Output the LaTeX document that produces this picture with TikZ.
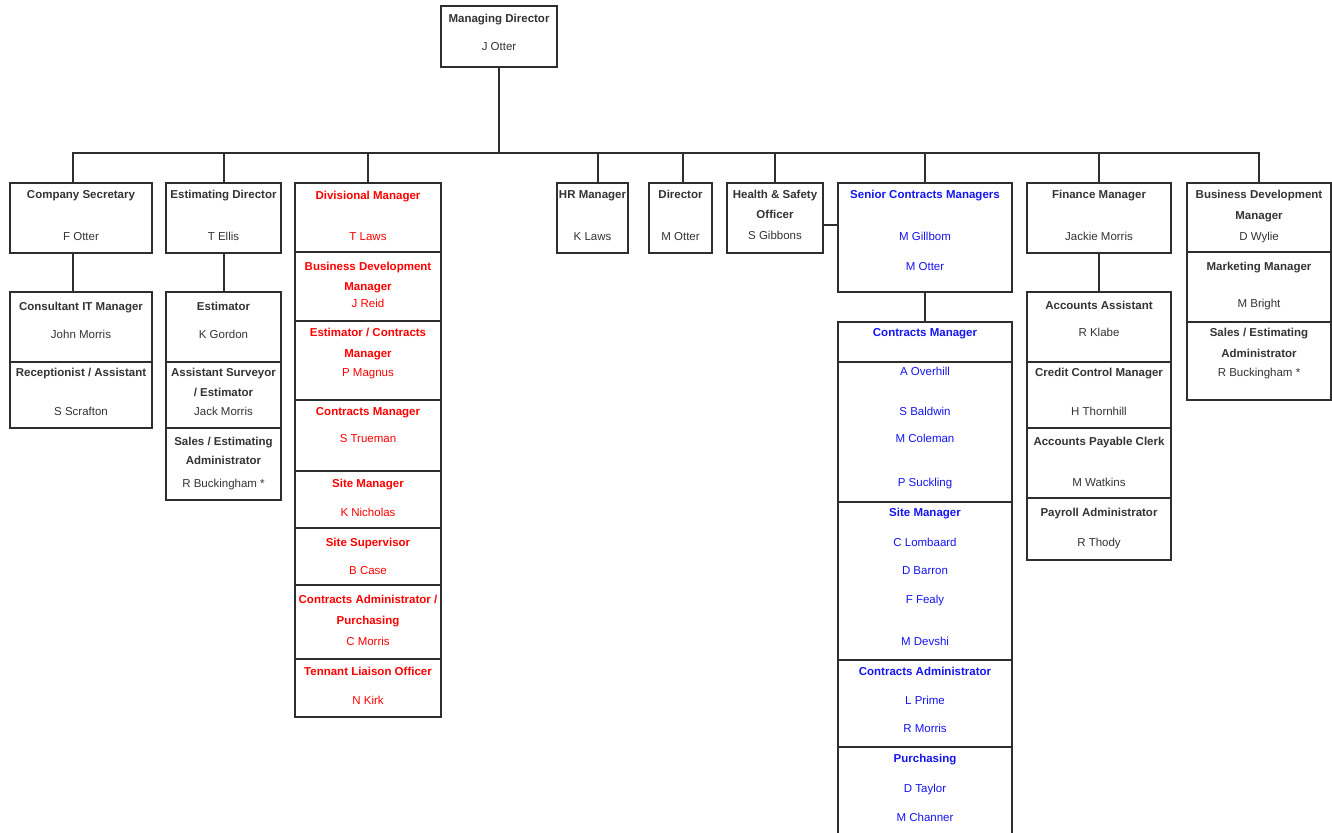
\documentclass[tikz,border=0pt]{standalone}
\usepackage{fontspec}
\setmainfont{Liberation Sans}
\definecolor{ln}{HTML}{2E2E2E}
\definecolor{rd}{HTML}{FF0000}
\definecolor{bl}{HTML}{1414F0}
\newcommand\cellbox[5]{\node[cell, minimum width=#4pt, minimum height=#5pt] (#1) at (#2,#3) {};}
\newcommand\lbl[5]{\node[#1] (#2) at (#3,#4) {#5};}
\begin{document}
\begin{tikzpicture}[x=1pt,y=-1pt,
  cell/.style={draw=ln, line width=1.5pt, anchor=north west, inner sep=0pt, outer sep=0pt},
  conn/.style={draw=ln, line width=1.5pt},
  tx/.style={inner sep=0pt, text height=8.5pt, text depth=2.5pt, text=black!80, yshift=-2pt},
  ttl/.style={tx, font=\fontsize{11.5}{13}\selectfont\bfseries},
  nm/.style={tx, font=\fontsize{11.5}{13}\selectfont},
  rt/.style={ttl, text=rd}, rn/.style={nm, text=rd},
  bt/.style={ttl, text=bl}, bn/.style={nm, text=bl}]
\useasboundingbox (0,0) rectangle (1332,832);
\clip (0,0) rectangle (1332,832);
% top
\cellbox{md}{441}{6}{116}{61}
\lbl{ttl}{md1}{499}{18}{Managing Director}
\lbl{nm}{md2}{499}{46}{J Otter}
% column 1
\cellbox{cs}{10}{183}{142}{70}
\cellbox{cit}{10}{292}{142}{70}
\cellbox{rec}{10}{362}{142}{66}
\lbl{ttl}{cs1}{81}{193}{Company Secretary}
\lbl{nm}{cs2}{81}{235}{F Otter}
\lbl{ttl}{cit1}{81}{305}{Consultant IT Manager}
\lbl{nm}{cit2}{81}{333}{John Morris}
\lbl{ttl}{rec1}{81}{371}{Receptionist / Assistant}
\lbl{nm}{rec2}{81}{410}{S Scrafton}
% column 2
\cellbox{ed}{166}{183}{115}{70}
\cellbox{est}{166}{292}{115}{70}
\cellbox{asr}{166}{362}{115}{66}
\cellbox{sea}{166}{428}{115}{72}
\lbl{ttl}{ed1}{223.5}{193}{Estimating Director}
\lbl{nm}{ed2}{223.5}{235}{T Ellis}
\lbl{ttl}{est1}{223.5}{305}{Estimator}
\lbl{nm}{est2}{223.5}{333}{K Gordon}
\lbl{ttl}{asr1}{223.5}{371}{Assistant Surveyor}
\lbl{ttl}{asr2}{223.5}{391}{/ Estimator}
\lbl{nm}{asr3}{223.5}{410}{Jack Morris}
\lbl{ttl}{sea1}{223.5}{440}{Sales / Estimating}
\lbl{ttl}{sea2}{223.5}{459}{Administrator}
\lbl{nm}{sea3}{223.5}{482}{R Buckingham *}
% red column
\cellbox{dm}{295}{183}{146}{69}
\cellbox{bdm}{295}{252}{146}{69}
\cellbox{ecm}{295}{321}{146}{79}
\cellbox{cm}{295}{400}{146}{71}
\cellbox{sm}{295}{471}{146}{57}
\cellbox{ss}{295}{528}{146}{57}
\cellbox{ca}{295}{585}{146}{74}
\cellbox{tlo}{295}{659}{146}{58}
\lbl{rt}{dm1}{368}{194}{Divisional Manager}
\lbl{rn}{dm2}{368}{235}{T Laws}
\lbl{rt}{bdm1}{368}{265}{Business Development}
\lbl{rt}{bdm2}{368}{285}{Manager}
\lbl{rn}{bdm3}{368}{302}{J Reid}
\lbl{rt}{ecm1}{368}{331}{Estimator / Contracts}
\lbl{rt}{ecm2}{368}{352}{Manager}
\lbl{rn}{ecm3}{368}{371}{P Magnus}
\lbl{rt}{cm1}{368}{410}{Contracts Manager}
\lbl{rn}{cm2}{368}{437}{S Trueman}
\lbl{rt}{sm1}{368}{482}{Site Manager}
\lbl{rn}{sm2}{368}{511}{K Nicholas}
\lbl{rt}{ss1}{368}{541}{Site Supervisor}
\lbl{rn}{ss2}{368}{569}{B Case}
\lbl{rt}{ca1}{368}{598}{Contracts Administrator /}
\lbl{rt}{ca2}{368}{619}{Purchasing}
\lbl{rn}{ca3}{368}{640}{C Morris}
\lbl{rt}{tlo1}{368}{670}{Tennant Liaison Officer}
\lbl{rn}{tlo2}{368}{699}{N Kirk}
% middle small boxes
\cellbox{hr}{557}{183}{71}{70}
\lbl{ttl}{hr1}{592.5}{193}{HR Manager}
\lbl{nm}{hr2}{592.5}{235}{K Laws}
\cellbox{dir}{649}{183}{63}{70}
\lbl{ttl}{dir1}{680.5}{193}{Director}
\lbl{nm}{dir2}{680.5}{235}{M Otter}
\cellbox{hs}{727}{183}{96}{70}
\lbl{ttl}{hs1}{775}{193}{Health \& Safety}
\lbl{ttl}{hs2}{775}{213}{Officer}
\lbl{nm}{hs3}{775}{234}{S Gibbons}
% blue column
\cellbox{scm}{838}{183}{174}{109}
\lbl{bt}{scm1}{925}{193}{Senior Contracts Managers}
\lbl{bn}{scm2}{925}{235}{M Gillbom}
\lbl{bn}{scm3}{925}{265}{M Otter}
\cellbox{bcm}{838}{322}{174}{40}
\cellbox{bnm}{838}{362}{174}{140}
\cellbox{bsm}{838}{502}{174}{158}
\cellbox{bca}{838}{660}{174}{87}
\cellbox{bpu}{838}{747}{174}{100}
\lbl{bt}{bcm1}{925}{331}{Contracts Manager}
\lbl{bn}{bnm1}{925}{370}{A Overhill}
\lbl{bn}{bnm2}{925}{410}{S Baldwin}
\lbl{bn}{bnm3}{925}{437}{M Coleman}
\lbl{bn}{bnm4}{925}{481}{P Suckling}
\lbl{bt}{bsm1}{925}{511}{Site Manager}
\lbl{bn}{bsm2}{925}{541}{C Lombaard}
\lbl{bn}{bsm3}{925}{569}{D Barron}
\lbl{bn}{bsm4}{925}{598}{F Fealy}
\lbl{bn}{bsm5}{925}{640}{M Devshi}
\lbl{bt}{bca1}{925}{670}{Contracts Administrator}
\lbl{bn}{bca2}{925}{699}{L Prime}
\lbl{bn}{bca3}{925}{727}{R Morris}
\lbl{bt}{bpu1}{925}{757}{Purchasing}
\lbl{bn}{bpu2}{925}{787}{D Taylor}
\lbl{bn}{bpu3}{925}{816}{M Channer}
% finance
\cellbox{fm}{1027}{183}{144}{70}
\cellbox{aa}{1027}{292}{144}{70}
\cellbox{ccm}{1027}{362}{144}{66}
\cellbox{apc}{1027}{428}{144}{70}
\cellbox{pa}{1027}{498}{144}{62}
\lbl{ttl}{fm1}{1099}{193}{Finance Manager}
\lbl{nm}{fm2}{1099}{235}{Jackie Morris}
\lbl{ttl}{aa1}{1099}{304}{Accounts Assistant}
\lbl{nm}{aa2}{1099}{331}{R Klabe}
\lbl{ttl}{ccm1}{1099}{371}{Credit Control Manager}
\lbl{nm}{ccm2}{1099}{410}{H Thornhill}
\lbl{ttl}{apc1}{1099}{440}{Accounts Payable Clerk}
\lbl{nm}{apc2}{1099}{481}{M Watkins}
\lbl{ttl}{pa1}{1099}{511}{Payroll Administrator}
\lbl{nm}{pa2}{1099}{541}{R Thody}
% business development
\cellbox{bd}{1187}{183}{144}{69}
\cellbox{mm}{1187}{252}{144}{70}
\cellbox{sa}{1187}{322}{144}{78}
\lbl{ttl}{bd1}{1259}{193}{Business Development}
\lbl{ttl}{bd2}{1259}{214}{Manager}
\lbl{nm}{bd3}{1259}{235}{D Wylie}
\lbl{ttl}{mm1}{1259}{265}{Marketing Manager}
\lbl{nm}{mm2}{1259}{302}{M Bright}
\lbl{ttl}{sa1}{1259}{331}{Sales / Estimating}
\lbl{ttl}{sa2}{1259}{352}{Administrator}
\lbl{nm}{sa3}{1259}{371}{R Buckingham *}
% connectors
\coordinate (bus) at (497,153);
\draw[conn] (md.south) -- (md.south |- bus);
\draw[conn] ([xshift=-8pt]cs.north) |- (bd.north |- bus) -- (bd.north);
\draw[conn] ([xshift=0.5pt]ed.north) -- ([xshift=0.5pt]ed.north |- bus);
\draw[conn] ([xshift=5.5pt]hr.north) -- ([xshift=5.5pt]hr.north |- bus);
\draw[conn] ([xshift=2.5pt]dir.north) -- ([xshift=2.5pt]dir.north |- bus);
\foreach \n in {dm,hs,scm,fm}
  \draw[conn] (\n.north) -- (\n.north |- bus);
\draw[conn] ([xshift=-8pt]cs.south) -- ([xshift=-8pt]cit.north);
\draw[conn] ([xshift=0.5pt]ed.south) -- ([xshift=0.5pt]est.north);
\draw[conn] (scm.south) -- (bcm.north);
\draw[conn] (fm.south) -- (aa.north);
\draw[conn] ([yshift=-7pt]hs.east) -- ([yshift=-7pt]hs.east -| scm.west);
\end{tikzpicture}
\end{document}
